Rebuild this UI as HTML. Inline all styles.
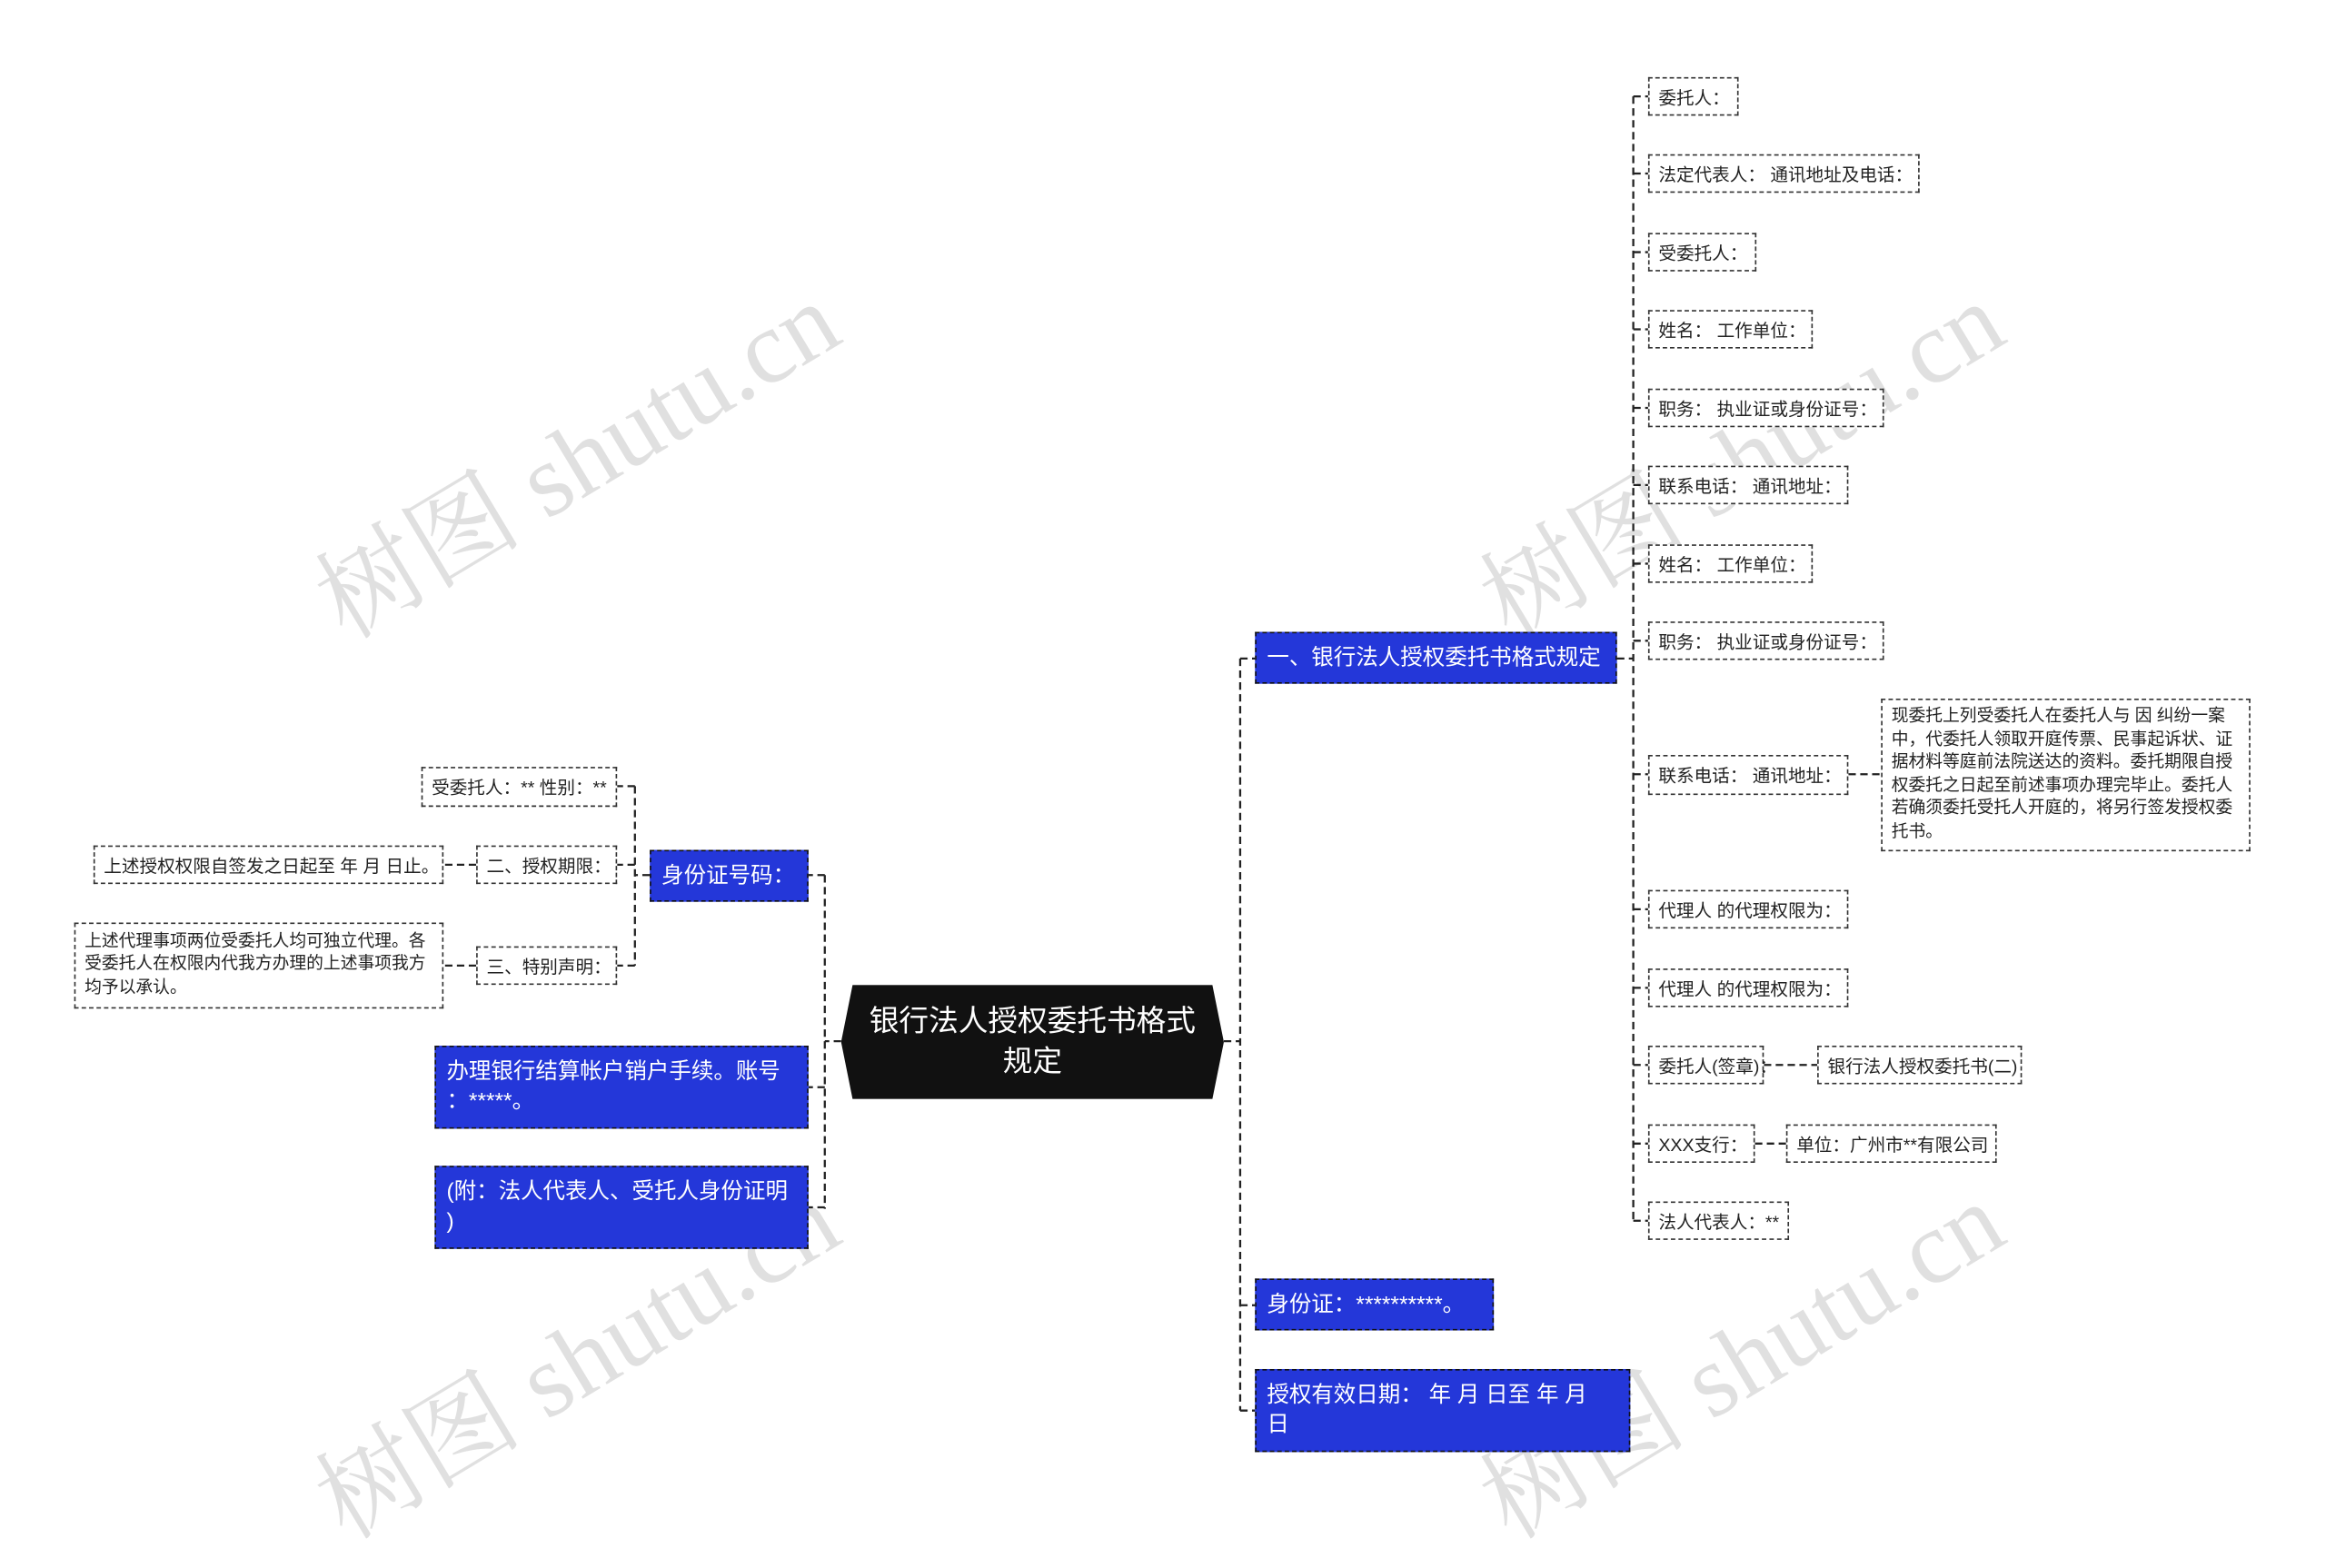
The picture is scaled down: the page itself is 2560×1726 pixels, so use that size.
<!DOCTYPE html>
<html><head><meta charset="utf-8"><style>
html,body{margin:0;padding:0;background:#fff;width:2560px;height:1681px;overflow:hidden}
#c{position:absolute;left:0;top:0;width:1568px;height:1030px;transform:scale(1.6327);transform-origin:0 0;font-family:"Liberation Sans","Noto Sans CJK SC",sans-serif}
.n{position:absolute;box-sizing:border-box;border:1px dashed #333;background:#fff;color:#222;font-size:12px;padding:0 6px;display:flex;align-items:center;white-space:nowrap}
.b{background:#2437d9;color:#fff;font-size:15px;border:1px dashed #111;padding:0 7px;line-height:20px}
.wm{position:absolute;color:rgba(0,0,0,0.12);font-size:70px;font-family:"Liberation Serif","Noto Serif CJK SC",serif;transform:rotate(-31deg);white-space:nowrap}
</style></head><body><div id="c">
<svg width="1568" height="1030" style="position:absolute;left:0;top:0" fill="none" stroke="#222" stroke-width="1.4" stroke-dasharray="5,3">
<path d="M825 702H836M836 444V951M836 444H846M836 880H846M836 951H846"/>
<path d="M1090 444H1101M1101 65V823M1101 65H1111M1101 117H1111M1101 170H1111M1101 222H1111M1101 275H1111M1101 327H1111M1101 380H1111M1101 432H1111M1101 522H1111M1101 613H1111M1101 666H1111M1101 718H1111M1101 771H1111M1101 823H1111"/>
<path d="M1246 522H1268M1189 718H1225M1183 771H1204"/>
<path d="M567 702H556M556 590V815M556 590H545M556 733H545M556 814H545"/>
<path d="M438 590H428M428 530V651M428 530H416M428 583H416M428 651H416M321 583H299M321 651H299"/>
</svg>
<div class="wm" style="left:190px;top:255px">树图 shutu.cn</div>
<div class="wm" style="left:975px;top:255px">树图 shutu.cn</div>
<div class="wm" style="left:190px;top:862px">树图 shutu.cn</div>
<div class="wm" style="left:975px;top:862px">树图 shutu.cn</div>
<div style="position:absolute;left:567px;top:664px;width:258px;height:77px;background:#111;clip-path:polygon(3% 0,97% 0,100% 50%,97% 100%,3% 100%,0 50%);color:#fff;font-size:20px;line-height:27px;text-align:center;display:flex;align-items:center;justify-content:center;padding:0 14px;box-sizing:border-box">银行法人授权委托书格式<br>规定</div>

<div class="n b" style="left:846px;top:426px;width:244px;height:35px">一、银行法人授权委托书格式规定</div>
<div class="n b" style="left:846px;top:862px;width:161px;height:35px">身份证：**********。</div>
<div class="n b" style="left:846px;top:923px;width:253px;height:56px">授权有效日期： 年 月 日至 年 月<br>日</div>

<div class="n" style="left:1111px;top:52px;width:61px;height:26px">委托人：</div>
<div class="n" style="left:1111px;top:104px;width:183px;height:26px">法定代表人： 通讯地址及电话：</div>
<div class="n" style="left:1111px;top:157px;width:73px;height:26px">受委托人：</div>
<div class="n" style="left:1111px;top:209px;width:111px;height:26px">姓名： 工作单位：</div>
<div class="n" style="left:1111px;top:262px;width:159px;height:26px">职务： 执业证或身份证号：</div>
<div class="n" style="left:1111px;top:314px;width:135px;height:26px">联系电话： 通讯地址：</div>
<div class="n" style="left:1111px;top:367px;width:111px;height:26px">姓名： 工作单位：</div>
<div class="n" style="left:1111px;top:419px;width:159px;height:26px">职务： 执业证或身份证号：</div>
<div class="n" style="left:1111px;top:509px;width:135px;height:27px">联系电话： 通讯地址：</div>
<div class="n" style="left:1268px;top:471px;width:249px;height:103px;line-height:15.5px;font-size:11.5px">现委托上列受委托人在委托人与 因 纠纷一案<br>中，代委托人领取开庭传票、民事起诉状、证<br>据材料等庭前法院送达的资料。委托期限自授<br>权委托之日起至前述事项办理完毕止。委托人<br>若确须委托受托人开庭的，将另行签发授权委<br>托书。</div>
<div class="n" style="left:1111px;top:600px;width:135px;height:26px">代理人 的代理权限为：</div>
<div class="n" style="left:1111px;top:653px;width:135px;height:26px">代理人 的代理权限为：</div>
<div class="n" style="left:1111px;top:705px;width:78px;height:26px">委托人(签章)：</div>
<div class="n" style="left:1225px;top:705px;width:138px;height:26px">银行法人授权委托书(二)</div>
<div class="n" style="left:1111px;top:758px;width:72px;height:26px">XXX支行：</div>
<div class="n" style="left:1204px;top:758px;width:142px;height:26px">单位：广州市**有限公司</div>
<div class="n" style="left:1111px;top:810px;width:95px;height:26px">法人代表人：**</div>

<div class="n b" style="left:438px;top:573px;width:107px;height:35px">身份证号码：</div>
<div class="n" style="left:284px;top:517px;width:132px;height:27px">受委托人：** 性别：**</div>
<div class="n" style="left:321px;top:570px;width:95px;height:26px">二、授权期限：</div>
<div class="n" style="left:63px;top:570px;width:236px;height:26px">上述授权权限自签发之日起至 年 月 日止。</div>
<div class="n" style="left:321px;top:638px;width:95px;height:26px">三、特别声明：</div>
<div class="n" style="left:50px;top:622px;width:249px;height:58px;line-height:15.5px;font-size:11.5px">上述代理事项两位受委托人均可独立代理。各<br>受委托人在权限内代我方办理的上述事项我方<br>均予以承认。</div>
<div class="n b" style="left:293px;top:705px;width:252px;height:56px">办理银行结算帐户销户手续。账号<br>：*****。</div>
<div class="n b" style="left:293px;top:786px;width:252px;height:56px">(附：法人代表人、受托人身份证明<br>)</div>
</div></body></html>
